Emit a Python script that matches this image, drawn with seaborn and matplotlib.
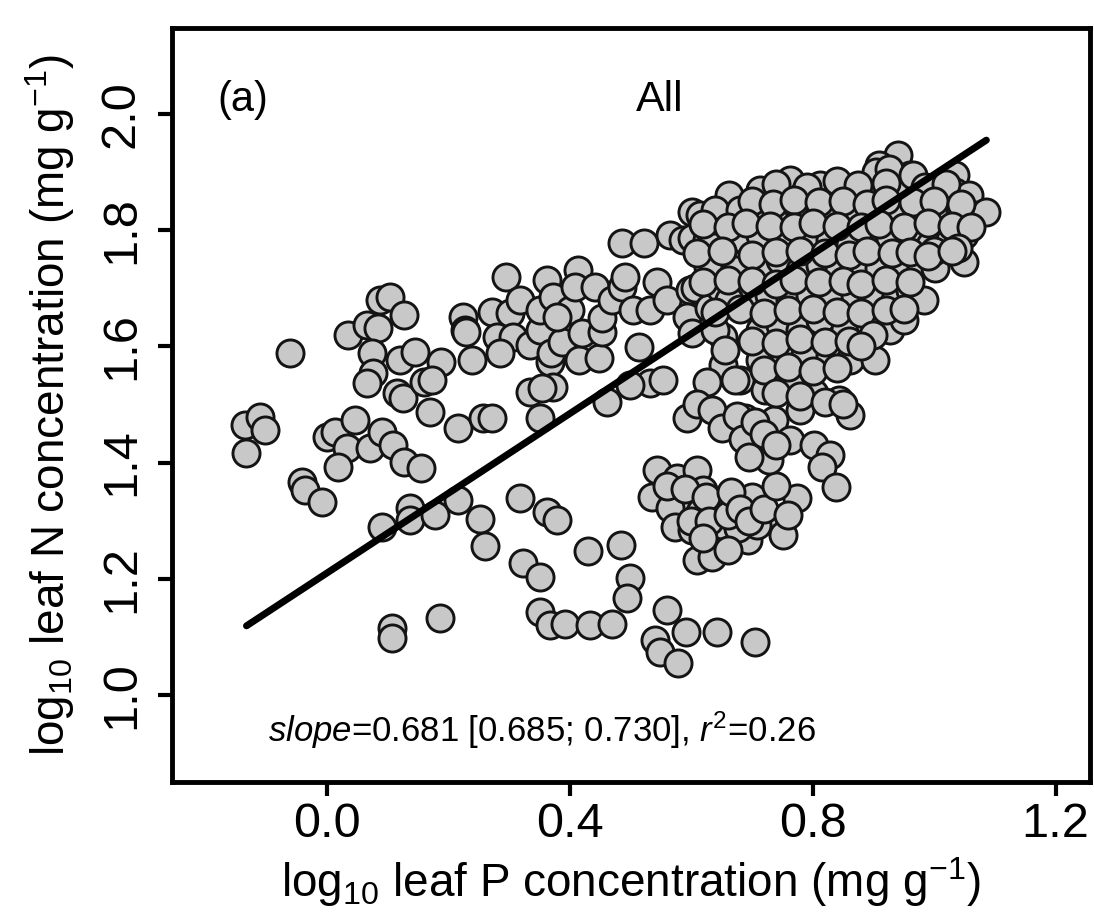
import numpy as np
import pandas as pd
import matplotlib
matplotlib.use("Agg")
import matplotlib.pyplot as plt
import seaborn as sns

# ---- data (log10 leaf P, log10 leaf N) ----
leaf_p = [
    -0.135, -0.110, -0.102, -0.132, -0.061,
    0.000, 0.013, 0.046, 0.033, 0.018, 0.071, 0.091, 0.109, 0.128, 0.156,
    -0.040, -0.036, -0.007,
    0.087, 0.104, 0.128, 0.035, 0.067, 0.084, 0.074, 0.076, 0.067, 0.120, 0.145, 0.115, 0.125,
    0.161, 0.170, 0.189, 0.216, 0.224, 0.227, 0.239,
    0.091, 0.137, 0.137, 0.178, 0.216, 0.252,
    0.107, 0.107, 0.186,
    0.230, 0.174, 0.257, 0.272,
    0.296, 0.273, 0.301, 0.318, 0.280, 0.306, 0.285, 0.334, 0.351, 0.351, 0.362, 0.372, 0.367,
    0.370, 0.372, 0.334, 0.354, 0.351, 0.387, 0.400, 0.380, 0.413, 0.408, 0.416, 0.449, 0.421,
    0.453, 0.441, 0.454, 0.469, 0.487, 0.491, 0.486, 0.523, 0.515, 0.504, 0.532, 0.543, 0.560,
    0.565, 0.586, 0.601, 0.598, 0.606, 0.594, 0.602, 0.601, 0.626, 0.634, 0.627, 0.639, 0.630,
    0.652, 0.652, 0.626, 0.532, 0.553, 0.499, 0.461, 0.594, 0.652,
    0.260, 0.318, 0.323, 0.352, 0.362, 0.379, 0.351, 0.430, 0.367, 0.392, 0.433, 0.469, 0.484,
    0.499, 0.495, 0.540, 0.561, 0.548, 0.578, 0.591, 0.642, 0.705,
    0.543, 0.535, 0.576, 0.586, 0.609, 0.619, 0.614, 0.565, 0.573, 0.601, 0.639, 0.650, 0.609,
    0.634, 0.729, 0.751, 0.774, 0.693, 0.708, 0.677, 0.700,
    0.560, 0.590, 0.600, 0.625, 0.630, 0.660, 0.665, 0.680, 0.695, 0.720, 0.740, 0.760, 0.620, 0.660,
    0.940, 0.762, 0.910, 0.902, 0.960, 1.034,
    0.663, 0.713, 0.787, 0.812, 0.844, 0.861, 0.894, 0.927, 0.951, 0.976, 1.001, 1.034, 1.058,
    0.614, 0.639, 0.680, 0.721, 0.746, 0.779, 0.812, 0.836, 0.877, 0.910, 0.943, 0.976, 1.017,
    1.042, 1.067, 1.086,
    0.688, 0.713, 0.762, 0.795, 0.828, 0.861, 0.894, 0.927, 0.960, 0.993, 1.026, 1.050,
    0.680, 0.713, 0.746, 0.779, 0.812, 0.844, 0.877, 0.910, 0.943, 0.976, 1.001, 1.050,
    0.688, 0.729, 0.762, 0.795, 0.828, 0.869, 0.902, 0.935, 0.960, 0.984,
    0.713, 0.746, 0.779, 0.812, 0.853, 0.894, 0.927, 0.951,
    0.713, 0.754, 0.787, 0.828, 0.861, 0.902,
    0.680, 0.721, 0.762, 0.803, 0.844, 0.861, 0.779, 0.737, 0.688, 0.713,
    0.762, 0.803, 0.828, 0.816, 0.838, 0.729,
    0.647, 0.672, 0.663, 0.639, 0.655, 0.672,
    0.905, 0.925, 0.965,
    0.740, 0.790, 0.840, 0.875, 0.920, 0.985, 1.020,
    0.700, 0.735, 0.770, 0.810, 0.850, 0.890, 0.920, 0.965, 1.000, 1.045,
    0.620, 0.660, 0.690, 0.730, 0.770, 0.800, 0.840, 0.880, 0.910, 0.950, 0.990, 1.030, 1.060,
    0.610, 0.650, 0.700, 0.740, 0.780, 0.820, 0.860, 0.890, 0.930, 0.960, 1.000, 1.040,
    0.620, 0.660, 0.700, 0.740, 0.770, 0.810, 0.850, 0.880, 0.920, 0.960, 0.990, 1.030,
    0.640, 0.680, 0.720, 0.760, 0.800, 0.840, 0.880, 0.920, 0.950,
    0.700, 0.740, 0.780, 0.820, 0.860, 0.900,
    0.720, 0.760, 0.800, 0.840, 0.880,
    0.740, 0.780, 0.820, 0.850,
    0.610, 0.635, 0.650, 0.675, 0.685, 0.695, 0.705, 0.720, 0.740,
]
leaf_n = [
    1.465, 1.478, 1.456, 1.417, 1.589,
    1.444, 1.453, 1.473, 1.425, 1.392, 1.425, 1.453, 1.430, 1.401, 1.391,
    1.367, 1.353, 1.332,
    1.680, 1.685, 1.654, 1.620, 1.637, 1.632, 1.589, 1.554, 1.537, 1.577, 1.590, 1.520, 1.511,
    1.539, 1.487, 1.573, 1.460, 1.651, 1.628, 1.577,
    1.289, 1.322, 1.301, 1.310, 1.336, 1.303,
    1.115, 1.098, 1.133,
    1.625, 1.542, 1.477, 1.477,
    1.719, 1.659, 1.657, 1.680, 1.616, 1.616, 1.589, 1.602, 1.628, 1.663, 1.714, 1.685, 1.573,
    1.589, 1.530, 1.522, 1.528, 1.477, 1.608, 1.663, 1.651, 1.731, 1.702, 1.577, 1.580, 1.623,
    1.625, 1.702, 1.649, 1.680, 1.702, 1.719, 1.778, 1.778, 1.599, 1.663, 1.663, 1.711, 1.680,
    1.792, 1.783, 1.831, 1.697, 1.700, 1.651, 1.623, 1.787, 1.783, 1.787, 1.737, 1.818, 1.666,
    1.616, 1.568, 1.539, 1.537, 1.542, 1.534, 1.504, 1.477, 1.470,
    1.256, 1.339, 1.227, 1.203, 1.315, 1.301, 1.143, 1.248, 1.120, 1.122, 1.120, 1.122, 1.258,
    1.201, 1.167, 1.095, 1.146, 1.074, 1.055, 1.108, 1.108, 1.091,
    1.387, 1.341, 1.373, 1.339, 1.387, 1.353, 1.315, 1.322, 1.289, 1.284, 1.327, 1.293, 1.232,
    1.237, 1.301, 1.275, 1.339, 1.267, 1.293, 1.287, 1.341,
    1.360, 1.355, 1.300, 1.340, 1.300, 1.310, 1.350, 1.320, 1.300, 1.320, 1.360, 1.310, 1.270, 1.250,
    1.929, 1.886, 1.912, 1.886, 1.895, 1.895,
    1.861, 1.869, 1.866, 1.878, 1.869, 1.852, 1.869, 1.861, 1.861, 1.869, 1.869, 1.866, 1.861,
    1.826, 1.835, 1.835, 1.826, 1.809, 1.826, 1.835, 1.818, 1.826, 1.835, 1.826, 1.835, 1.826,
    1.835, 1.826, 1.831,
    1.783, 1.792, 1.783, 1.775, 1.783, 1.775, 1.783, 1.787, 1.780, 1.775, 1.783, 1.792,
    1.740, 1.731, 1.749, 1.731, 1.740, 1.731, 1.745, 1.735, 1.740, 1.745, 1.735, 1.745,
    1.680, 1.688, 1.680, 1.688, 1.680, 1.688, 1.683, 1.680, 1.697, 1.680,
    1.628, 1.637, 1.628, 1.645, 1.628, 1.637, 1.628, 1.645,
    1.577, 1.577, 1.585, 1.585, 1.577, 1.577,
    1.542, 1.525, 1.534, 1.520, 1.508, 1.482, 1.491, 1.473, 1.477, 1.439,
    1.439, 1.430, 1.413, 1.392, 1.358, 1.404,
    1.700, 1.731, 1.680, 1.628, 1.594, 1.542,
    1.900, 1.905, 1.895,
    1.880, 1.875, 1.885, 1.878, 1.882, 1.875, 1.880,
    1.850, 1.845, 1.852, 1.848, 1.850, 1.845, 1.852, 1.848, 1.850, 1.845,
    1.810, 1.805, 1.812, 1.808, 1.805, 1.812, 1.808, 1.805, 1.810, 1.805, 1.812, 1.808, 1.805,
    1.760, 1.765, 1.758, 1.762, 1.765, 1.760, 1.758, 1.765, 1.760, 1.762, 1.765, 1.770,
    1.710, 1.715, 1.712, 1.708, 1.715, 1.710, 1.712, 1.708, 1.715, 1.710, 1.755, 1.765,
    1.660, 1.665, 1.658, 1.662, 1.665, 1.660, 1.658, 1.662, 1.665,
    1.610, 1.605, 1.612, 1.608, 1.610, 1.620,
    1.560, 1.565, 1.558, 1.562, 1.600,
    1.520, 1.515, 1.505, 1.500,
    1.500, 1.490, 1.460, 1.480, 1.440, 1.410, 1.470, 1.450, 1.430,
]

line_p = [-0.132, 1.086]
line_n = [1.119, 1.955]

x_ticks = [0.0, 0.4, 0.8, 1.2]
x_tick_labels = ["0.0", "0.4", "0.8", "1.2"]
y_ticks = [1.0, 1.2, 1.4, 1.6, 1.8, 2.0]
y_tick_labels = ["1.0", "1.2", "1.4", "1.6", "1.8", "2.0"]

df = pd.DataFrame({"P": leaf_p, "N": leaf_n})
df_line = pd.DataFrame({"P": line_p, "N": line_n})

sns.set_style("ticks")
plt.rcParams["font.family"] = ["Liberation Sans", "DejaVu Sans"]
plt.rcParams["mathtext.fontset"] = "custom"
plt.rcParams["mathtext.rm"] = "Liberation Sans"
plt.rcParams["mathtext.it"] = "Liberation Sans:italic"
for key in ["text.color", "axes.labelcolor", "xtick.color", "ytick.color"]:
    plt.rcParams[key] = "black"

fig = plt.figure(figsize=(10.94, 9.18), dpi=100)
ax = fig.add_axes([0.157, 0.148, 0.839, 0.8215])

sns.scatterplot(data=df, x="P", y="N", ax=ax, s=380, color="#c8c8c8",
                edgecolor="#141414", linewidth=2.1, zorder=2, legend=False)
sns.lineplot(data=df_line, x="P", y="N", ax=ax, color="black", linewidth=5,
             zorder=3, legend=False)

ax.set_xlim(-0.255, 1.256)
ax.set_ylim(0.85, 2.148)
ax.set_xticks(x_ticks)
ax.set_xticklabels(x_tick_labels)
ax.set_yticks(y_ticks)
ax.set_yticklabels(y_tick_labels, rotation=90, va="center")
ax.tick_params(axis="both", labelsize=35, length=10, width=3, color="black")
ax.tick_params(axis="x", pad=4)
ax.tick_params(axis="y", pad=10)

for sp in ax.spines.values():
    sp.set_visible(True)
    sp.set_linewidth(3.5)
    sp.set_color("black")

ax.set_xlabel(r"log$_{10}$ leaf P concentration (mg g$^{-1}$)", fontsize=33, labelpad=6)
ax.set_ylabel(r"log$_{10}$ leaf N concentration (mg g$^{-1}$)", fontsize=33, labelpad=16)

ax.text(0.05, 0.905, "(a)", transform=ax.transAxes, fontsize=30, va="center", ha="left")
ax.text(0.532, 0.905, "All", transform=ax.transAxes, fontsize=31, va="center", ha="center")
ax.text(0.105, 0.069, r"$\it{slope}$=0.681 [0.685; 0.730], $\it{r}^{2}$=0.26",
        transform=ax.transAxes, fontsize=25, va="center", ha="left")

fig.savefig("out.png", dpi=100)
